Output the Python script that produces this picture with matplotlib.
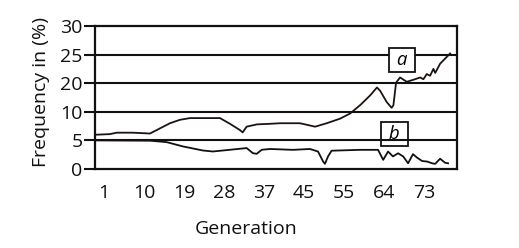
import numpy as np
import matplotlib
matplotlib.use("Agg")
import matplotlib.pyplot as plt

# ---- data ----
gen_a = [-0.6, 2.35, 3.9, 7.5, 11.35, 13.6, 15.85, 18.1, 20.35, 27.1, 29.35, 31.6, 32.2, 33.1,
         35.4, 38.35, 40.6, 45.1, 48.5, 51.1, 54.1, 56.35, 58.6, 60.85, 62.4, 63.1, 64.6, 65.7,
         66.1, 66.7, 67.6, 69.1, 70.6, 72.1, 72.85, 73.6, 74.35, 75.1, 75.5, 76.6, 78.1, 78.85]
freq_a = [6.0, 6.1, 6.35, 6.35, 6.2, 7.1, 8.0, 8.6, 8.9, 8.9, 7.9, 6.8, 6.4, 7.4,
          7.8, 7.9, 8.0, 8.0, 7.4, 8.0, 8.8, 9.7, 12.3, 15.7, 18.5, 17.4, 13.4, 11.4,
          12.3, 20.1, 21.0, 20.25, 20.6, 21.0, 20.7, 21.6, 21.3, 22.5, 21.8, 23.4, 24.6, 25.2]

gen_b = [-0.6, 11.35, 15.1, 18.8, 23.3, 25.5, 29.35, 33.1, 34.5, 35.35, 36.5, 38.35, 43.5,
         47.35, 49.15, 50.3, 50.7, 51.4, 52.2, 58.6, 62.65, 63.8, 64.9, 66.0, 67.15, 68.3,
         69.4, 70.5, 71.4, 72.55, 73.7, 74.8, 75.5, 76.6, 77.7, 78.4]
freq_b = [5.0, 4.95, 4.7, 3.94, 3.23, 3.06, 3.36, 3.66, 2.77, 2.65, 3.36, 3.5, 3.35,
          3.5, 3.05, 1.3, 0.9, 2.2, 3.2, 3.35, 3.35, 1.6, 3.05, 2.2, 2.75, 2.2,
          1.0, 2.6, 2.0, 1.4, 1.3, 1.0, 0.9, 1.8, 1.1, 1.0]

x_tick_gens = [1, 10, 19, 28, 37, 46, 55, 64, 73]
x_tick_labels = ['1', '10', '19', '28', '37', '45', '55', '64', '73']
y_tick_vals = [0, 5, 10, 20, 25, 30]
y_tick_labels = ['0', '5', '10', '20', '25', '30']

# ---- figure ----
W, H = 519, 248
fig = plt.figure(figsize=(W / 100, H / 100), dpi=100)
plt.rcParams['font.family'] = ['Open Sans', 'DejaVu Sans']
ax = fig.add_axes([95 / W, 1 - 169 / H, (457 - 95) / W, (169 - 26) / H])

pos = np.arange(len(y_tick_vals), dtype=float)
def fwd(v):
    return np.interp(v, y_tick_vals, pos)
def inv(p):
    return np.interp(p, pos, y_tick_vals)
ax.set_yscale('function', functions=(fwd, inv))

ax.plot(gen_a, freq_a, color='#1c1410', lw=1.3)
ax.plot(gen_b, freq_b, color='#111111', lw=1.3)

ax.set_xlim(-1.0, 80.4)
ax.set_ylim(0, 30)
ax.set_yticks(y_tick_vals)
ax.set_yticklabels(y_tick_labels)
ax.set_xticks(x_tick_gens)
ax.set_xticklabels(x_tick_labels)
ax.yaxis.set_minor_locator(matplotlib.ticker.NullLocator())
ax.xaxis.set_minor_locator(matplotlib.ticker.NullLocator())

for v in y_tick_vals[1:-1]:
    ax.axhline(v, color='#111111', lw=1.5, zorder=1)

for s in ax.spines.values():
    s.set_linewidth(1.6)
    s.set_color('#111111')

ax.tick_params(axis='y', length=8, width=1.5, pad=1, labelsize=14, colors='#111111')
ax.tick_params(axis='x', length=0, pad=11.0, labelsize=14, colors='#111111')

fig.text(246 / W, 1 - 234 / H, 'Generation', fontsize=14, ha='center', va='baseline',
         color='#111111')
fig.text(41 / W, 1 - 92 / H, 'Frequency in (%)', fontsize=14, ha='center', va='center',
         rotation=90, color='#111111')

ax.text(68.0, 24.1, ' a ', style='italic', fontsize=13.5, ha='center', va='center', zorder=5,
        bbox=dict(boxstyle='square,pad=0.16', fc='white', ec='#111111', lw=1.3))
ax.text(66.3, 6.2, ' b ', style='italic', fontsize=13.5, ha='center', va='center', zorder=5,
        bbox=dict(boxstyle='square,pad=0.16', fc='none', ec='#111111', lw=1.3))

fig.savefig('out.png', dpi=100)
